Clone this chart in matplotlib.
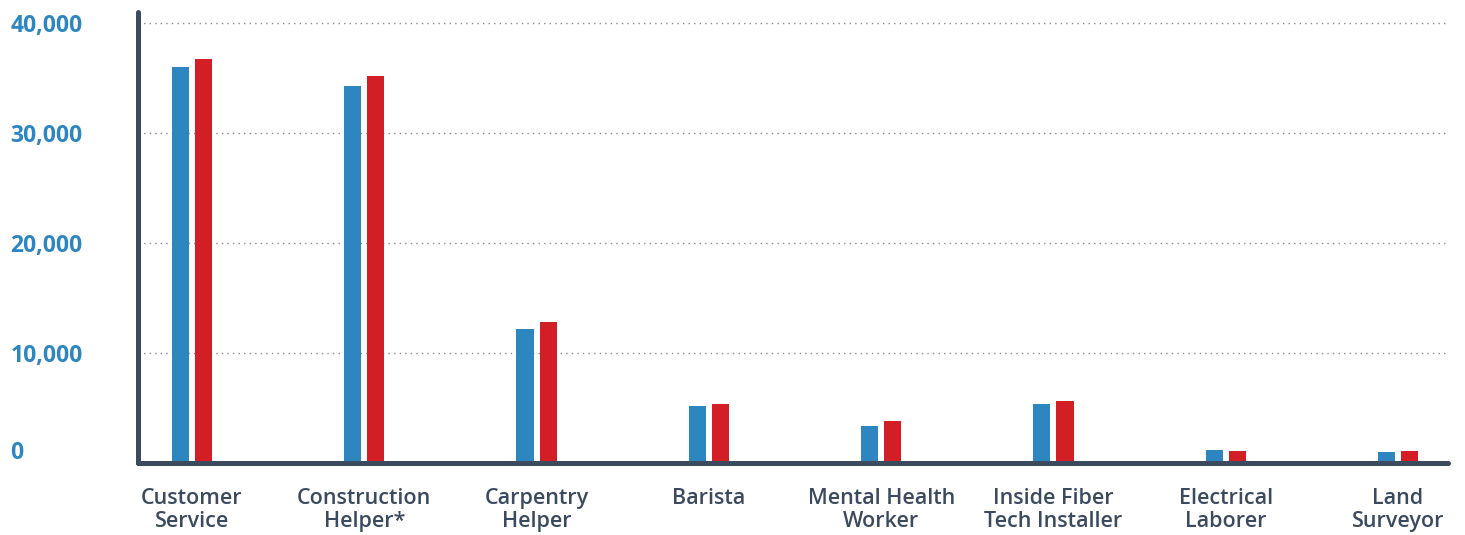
import matplotlib
matplotlib.use("Agg")
import matplotlib.pyplot as plt
import matplotlib.transforms as mtransforms
import numpy as np

# data
categories = ["Customer\nService", "Construction\nHelper*", "Carpentry\nHelper",
              "Barista", "Mental Health\nWorker", "Inside Fiber\nTech Installer",
              "Electrical\nLaborer", "Land\nSurveyor"]
series_blue = [36000, 34300, 12200, 5200, 3350, 5350, 1150, 1000]
series_red = [36700, 35200, 12800, 5350, 3800, 5650, 1100, 1100]
y_ticks = [0, 10000, 20000, 30000, 40000]

BLUE = "#2e86c1"
RED = "#d21f26"
AXIS = "#3b4a5c"
TEXT = "#3b4a5e"

plt.rcParams["font.family"] = ["Open Sans", "DejaVu Sans"]

fig = plt.figure(figsize=(14.65, 5.35), dpi=100)
ax = fig.add_axes([138 / 1465, 72 / 535, 1310 / 1465, 451 / 535])

x = np.arange(len(categories))
w = 0.099
off = 0.067
ax.bar(x - off, series_blue, width=w, color=BLUE, zorder=2)
ax.bar(x + off, series_red, width=w, color=RED, zorder=2)

ax.set_xlim(-0.313, 7.29)
ax.set_ylim(0, 41000)

for s in ["top", "right"]:
  ax.spines[s].set_visible(False)
for s in ["left", "bottom"]:
  ax.spines[s].set_linewidth(3.6)
  ax.spines[s].set_color(AXIS)
  ax.spines[s].set_capstyle("round")
  ax.spines[s].set_zorder(3)

for v in y_ticks[1:]:
  ax.axhline(v, color="#8a8a8a", linestyle=(0, (1, 3)), linewidth=1.0, zorder=1)

ax.set_yticks(y_ticks)
ax.set_yticklabels([f"{v:,}" for v in y_ticks], fontsize=16.5, fontweight="bold", color=BLUE)
ax.tick_params(axis="y", length=0, pad=92)
for lab in ax.get_yticklabels():
  lab.set_horizontalalignment("left")
zero_lab = ax.get_yticklabels()[0]
zero_lab.set_transform(zero_lab.get_transform() +
                       mtransforms.ScaledTranslation(0, 13 / 100, fig.dpi_scale_trans))

ax.set_xticks(x)
ax.set_xticklabels(categories, fontsize=15.5, fontweight="semibold", color=TEXT,
                   linespacing=1.15)
ax.tick_params(axis="x", length=0, pad=18)

fig.savefig("out.png", dpi=100)
